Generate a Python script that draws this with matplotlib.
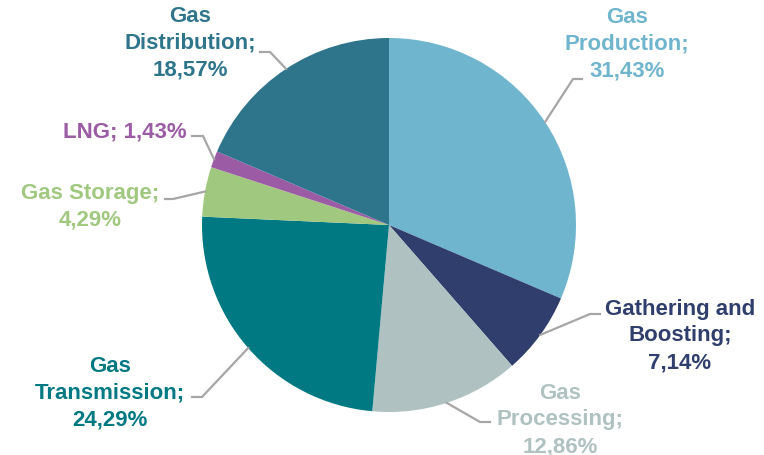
import numpy as np
import matplotlib
matplotlib.use("Agg")
import matplotlib.pyplot as plt

# segment shares (%), clockwise from 12 o'clock
segments = ["Gas\nProduction;", "Gathering and\nBoosting;", "Gas\nProcessing;",
            "Gas\nTransmission;", "Gas Storage;", "LNG;", "Gas\nDistribution;"]
shares = [31.43, 7.14, 12.86, 24.29, 4.29, 1.43, 18.57]
colors = ["#6FB5CE", "#2F3E6C", "#AFC1C1", "#007983", "#A0C87E", "#9B5BA5", "#2E758C"]

W, H = 764, 456
CX, CY, R = 389, 226, 187   # pie centre / radius in px (y from top)

# label block centre, leader elbow, leader end (px, y from top)
label_pos = [(627, 44), (680, 336), (560, 420), (110, 393), (90, 207), (125, 132), (190, 43)]
elbows = [(573, 80), (590, 315), (480, 423), (202, 398), (173, 200), (203, 137), (270, 53)]
ends = [(582, 80), (600, 315), (490, 423), (192, 398), (165, 200), (192, 137), (260, 53)]

plt.rcParams["font.family"] = ["Liberation Sans", "DejaVu Sans"]

fig = plt.figure(figsize=(W / 100, H / 100), dpi=100)
ax = fig.add_axes([0, 0, 1, 1])


def flip(p):
    return p[0], H - p[1]


ax.pie(shares, colors=colors, startangle=90, counterclock=False,
       center=(CX, H - CY), radius=R, frame=True,
       wedgeprops=dict(linewidth=0))
ax.set_xlim(0, W)
ax.set_ylim(0, H)
ax.set_aspect("equal")
ax.axis("off")

cum = np.cumsum([0] + shares)
for i, (name, val) in enumerate(zip(segments, shares)):
    mid = np.deg2rad(90 - (cum[i] + val / 2) * 3.6)
    sx, sy = CX + R * np.cos(mid), (H - CY) + R * np.sin(mid)
    ex, ey = flip(elbows[i])
    tx, ty = flip(ends[i])
    ax.plot([sx, ex, tx], [sy, ey, ty], color="#A6A6A6", lw=1.6,
            solid_joinstyle="miter", zorder=1)
    pct = f"{val:.2f}%".replace(".", ",")
    sep = " " if name == "LNG;" else "\n"
    lx, ly = flip(label_pos[i])
    ax.text(lx, ly, name + sep + pct, ha="center", va="center", color=colors[i],
            fontsize=16, fontweight="bold", linespacing=1.35)

fig.savefig("out.png", dpi=100)
